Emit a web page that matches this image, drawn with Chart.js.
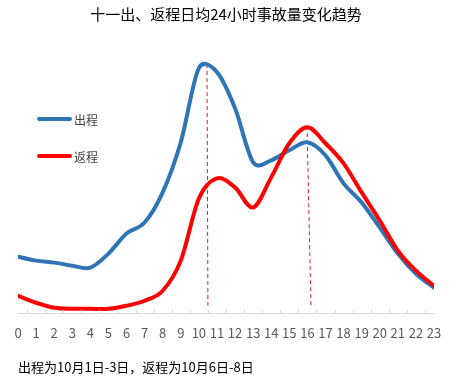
<!DOCTYPE html>
<html>
<head>
<meta charset="utf-8">
<script src="https://cdn.jsdelivr.net/npm/chart.js@4/dist/chart.umd.min.js"></script>
<style>
  html, body { margin: 0; padding: 0; background: #fff; }
  #wrap { position: relative; width: 463px; height: 377px; }
  .leg { position: absolute; left: 37px; height: 16px; display: flex; align-items: center;
         font: 12px "Noto Sans CJK SC", sans-serif; color: #404040; }
  .leg span.sw { display: inline-block; width: 35px; height: 4px; border-radius: 2px; margin-right: 2px; }
</style>
</head>
<body>
<div id="wrap">
  <canvas id="c" width="463" height="377"></canvas>
</div>
<script>
// hours of the day
const hourLabels = ['0','1','2','3','4','5','6','7','8','9','10','11','12','13','14','15','16','17','18','19','20','21','22','23'];
// 出程 (Oct 1-3) and 返程 (Oct 6-8)
const outbound = [57, 53, 51, 48, 46, 60, 80, 91, 121, 171, 245, 241, 205, 151, 153, 163, 171, 158, 130, 111, 86, 60, 40, 26];
const inbound  = [18, 11, 6, 5, 5, 5, 8, 13, 23, 53, 115, 135, 126, 106, 136, 170, 186, 170, 150, 121, 93, 63, 43, 28];
const seriesNames = ['出程', '返程'];
// dashed peak markers: [hour at top, value at top, hour at bottom, value at bottom]
const peakBlue = [10.45, 249, 10.5, 8];
const peakRed  = [15.98, 187, 16.2, 6];

const FONT = '"Noto Sans CJK SC", "Noto Sans", sans-serif';
const toXY = arr => arr.map((v, i) => ({ x: i, y: v }));
const marker = m => [{ x: m[0], y: m[1] }, { x: m[2], y: m[3] }];

// Excel-like smoothing: tangent from neighbours (1/6), handle clamped to half the adjacent segment
const excelSmooth = {
    id: 'excelSmooth',
    beforeDatasetDraw(chart, args) {
        const meta = args.meta;
        const line = meta.dataset;
        if (!line || !line.options.tension) return;
        line.updateControlPoints(chart.chartArea, 'x');
        const pts = meta.data;
        const dist = (a, b) => Math.hypot(b.x - a.x, b.y - a.y);
        for (let i = 0; i < pts.length; i++) {
            const p = pts[i];
            const prev = pts[i - 1] || p;
            const next = pts[i + 1] || p;
            const d02 = dist(prev, next) || 1;
            const ux = (next.x - prev.x) / d02, uy = (next.y - prev.y) / d02;
            const lenIn = i === 0 ? 0 : Math.min(d02 / 6, dist(prev, p) / 2);
            const lenOut = i === pts.length - 1 ? 0 : Math.min(d02 / 6, dist(p, next) / 2);
            p.cp1x = p.x - ux * lenIn; p.cp1y = p.y - uy * lenIn;
            p.cp2x = p.x + ux * lenOut; p.cp2y = p.y + uy * lenOut;
        }
    }
};

// small inward tick marks between categories
const innerTicks = {
    id: 'innerTicks',
    afterDatasetsDraw(chart) {
        const xs = chart.scales.x, ctx = chart.ctx, b = chart.chartArea.bottom;
        ctx.save();
        ctx.strokeStyle = '#d9d9d9';
        ctx.lineWidth = 1;
        for (let i = 0; i < hourLabels.length - 1; i++) {
            const px = Math.round(xs.getPixelForValue(i + 0.5)) + 0.5;
            ctx.beginPath();
            ctx.moveTo(px, b - 4);
            ctx.lineTo(px, b);
            ctx.stroke();
        }
        ctx.restore();
    }
};

const chart = new Chart(document.getElementById('c'), {
    type: 'line',
    data: {
        datasets: [
            { label: seriesNames[0], data: toXY(outbound), borderColor: '#2f74b5', borderWidth: 4,
              pointRadius: 0, tension: 0.4, borderCapStyle: 'round', borderJoinStyle: 'round', order: 1 },
            { label: seriesNames[1], data: toXY(inbound), borderColor: '#ff0000', borderWidth: 4,
              pointRadius: 0, tension: 0.4, borderCapStyle: 'round', borderJoinStyle: 'round', order: 0 },
            { label: 'peak1', data: marker(peakBlue), borderColor: '#d0202e', borderWidth: 1,
              borderDash: [4, 3], pointRadius: 0, order: 2 },
            { label: 'peak2', data: marker(peakRed), borderColor: '#d0202e', borderWidth: 1,
              borderDash: [4, 3], pointRadius: 0, order: 2 }
        ]
    },
    options: {
        responsive: false,
        animation: false,
        devicePixelRatio: 1,
        layout: { padding: { left: 18, right: 29, top: 0, bottom: 0 } },
        plugins: {
            legend: { display: false },
            tooltip: { enabled: false },
            title: {
                display: true,
                text: '十一出、返程日均24小时事故量变化趋势',
                color: '#000',
                font: { family: FONT, size: 15, weight: 'normal' },
                padding: { top: 5, bottom: 30 }
            },
            subtitle: {
                display: true,
                position: 'bottom',
                align: 'start',
                text: '出程为10月1日-3日，返程为10月6日-8日',
                color: '#000',
                font: { family: FONT, size: 13, weight: 'normal' },
                padding: { top: 8, bottom: 2 }
            }
        },
        scales: {
            x: {
                type: 'linear',
                min: 0,
                max: 23,
                grid: { display: false, drawTicks: false },
                border: { display: true, color: '#d9d9d9', width: 1 },
                ticks: {
                    stepSize: 1,
                    autoSkip: false,
                    maxRotation: 0,
                    padding: 11,
                    color: '#595959',
                    font: { family: FONT, size: 13 },
                    callback: v => hourLabels[v]
                }
            },
            y: { display: false, min: 0, max: 260 }
        }
    },
    plugins: [excelSmooth, innerTicks]
});

// legend drawn as HTML, placed inside the plot at the left
const wrap = document.getElementById('wrap');
[119, 156].forEach((top, i) => {
    const ds = chart.data.datasets[i];
    const d = document.createElement('div');
    d.className = 'leg';
    d.style.top = (top - 8) + 'px';
    d.innerHTML = '<span class="sw" style="background:' + ds.borderColor + '"></span>' + ds.label;
    wrap.appendChild(d);
});
</script>
</body>
</html>
